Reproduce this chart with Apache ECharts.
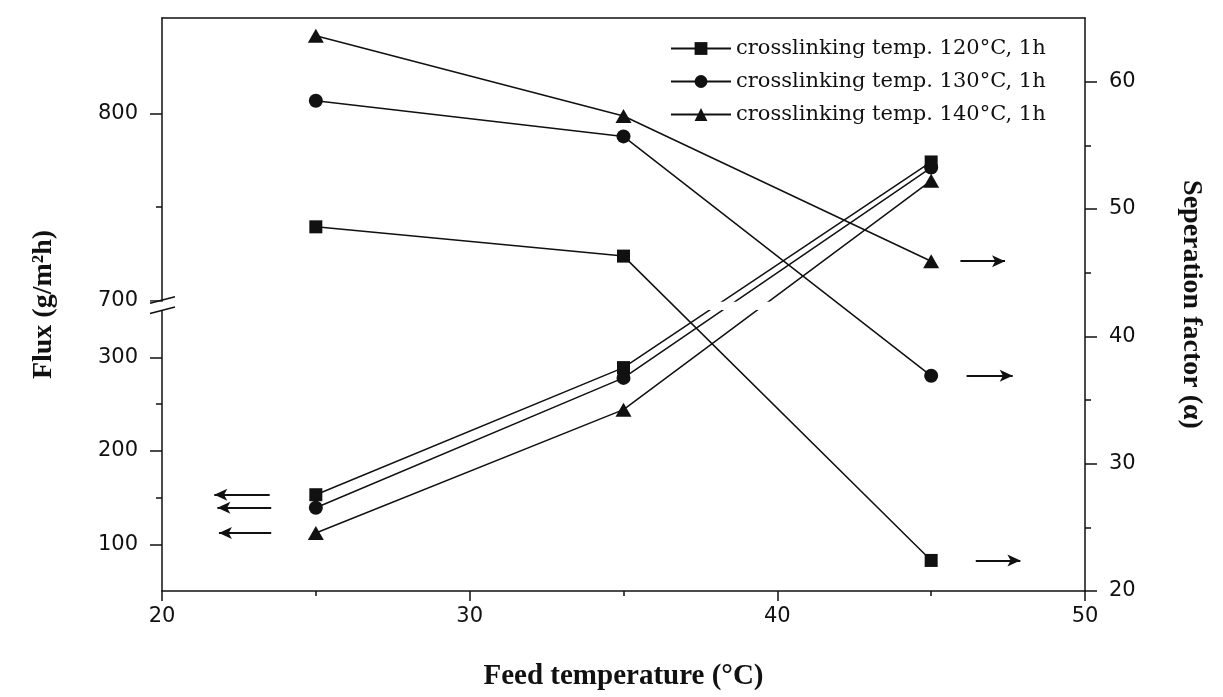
<!DOCTYPE html>
<html>
<head>
<meta charset="utf-8">
<title>Flux and separation factor vs feed temperature</title>
<script src="https://cdn.jsdelivr.net/npm/echarts@6/dist/echarts.min.js"></script>
<style>
  html, body { margin: 0; padding: 0; background: #fff; }
  #chart { width: 1223px; height: 697px; }
</style>
</head>
<body>
<div id="chart"></div>
<script>
// feed temperature (°C)
const feedTemps = [25, 35, 45];
const seriesNames = ['crosslinking temp. 120°C, 1h', 'crosslinking temp. 130°C, 1h', 'crosslinking temp. 140°C, 1h'];

// flux (g/m2h), left axis
const flux120 = [153, 289, 774];
const flux130 = [139, 278, 771];
const flux140 = [112, 244, 764];

// separation factor, right axis
const sep120 = [48.6, 46.3, 22.4];
const sep130 = [58.5, 55.7, 36.9];
const sep140 = [63.6, 57.3, 45.9];

// tick labels
const xTicks = [20, 30, 40, 50];
const fluxMajorTicks = [100, 200, 300, 700, 800];
const fluxMinorTicks = [150, 250, 750];
const sepMajorTicks = [20, 30, 40, 50, 60];
const sepMinorTicks = [25, 35, 45, 55];

// broken flux axis: 50-350 under the break, 700-850 above it at twice the scale
const BREAK_LO = 350, BREAK_HI = 700, BREAK_GAP = 11, UPPER_STRETCH = 2;
function fluxToAxis(v) {
  if (v <= BREAK_LO) return v;
  if (v >= BREAK_HI) return BREAK_LO + BREAK_GAP + (v - BREAK_HI) * UPPER_STRETCH;
  return BREAK_LO + (v - BREAK_LO) / (BREAK_HI - BREAK_LO) * BREAK_GAP;
}
function axisToFlux(u) {
  if (u <= BREAK_LO) return u;
  if (u >= BREAK_LO + BREAK_GAP) return BREAK_HI + (u - BREAK_LO - BREAK_GAP) / UPPER_STRETCH;
  return BREAK_LO + (u - BREAK_LO) / BREAK_GAP * (BREAK_HI - BREAK_LO);
}

const fluxData = [flux120, flux130, flux140];
const sepData = [sep120, sep130, sep140];
const symbols = ['rect', 'circle', 'triangle'];
const symbolSizes = [13, 14, [16, 14]];
// arrows telling which axis a group of curves belongs to
const fluxArrowX = [[23.5, 21.7], [23.55, 21.8], [23.55, 21.85]];
const sepArrowX = [[46.45, 47.9], [46.15, 47.65], [45.95, 47.4]];

const INK = '#111';
const numFont = 'DejaVu Sans, sans-serif';
const titleFont = 'Liberation Serif, Times New Roman, serif';

function arrowLine(x0, x1, y) {
  return {
    silent: true,
    symbol: ['none', 'arrow'],
    symbolSize: [9, 13],
    label: { show: false },
    lineStyle: { color: INK, width: 1.8, type: 'solid' },
    data: [[{ coord: [x0, y] }, { coord: [x1, y] }]]
  };
}

const series = [];
fluxData.forEach((vals, i) => {
  series.push({
    name: seriesNames[i],
    type: 'line',
    xAxisIndex: 0,
    yAxisIndex: 0,
    z: 2,
    symbol: symbols[i],
    symbolSize: symbolSizes[i],
    lineStyle: { color: INK, width: 1.5 },
    itemStyle: { color: INK },
    data: feedTemps.map((t, k) => [t, fluxToAxis(vals[k])]),
    markLine: arrowLine(fluxArrowX[i][0], fluxArrowX[i][1], fluxToAxis(vals[0]))
  });
});
sepData.forEach((vals, i) => {
  series.push({
    name: seriesNames[i],
    type: 'line',
    xAxisIndex: 0,
    yAxisIndex: 2,
    z: 4,
    symbol: symbols[i],
    symbolSize: symbolSizes[i],
    lineStyle: { color: INK, width: 1.5 },
    itemStyle: { color: INK },
    data: feedTemps.map((t, k) => [t, vals[k]]),
    markLine: arrowLine(sepArrowX[i][0], sepArrowX[i][1], vals[2])
  });
});

const fluxMin = 50, fluxMax = fluxToAxis(851);
const sepMin = 20, sepMax = 65;

const chart = echarts.init(document.getElementById('chart'));
chart.setOption({
  animation: false,
  backgroundColor: '#fff',
  grid: { left: 162, right: 138, top: 18, bottom: 106 },
  legend: {
    orient: 'vertical',
    left: 670,
    top: 38,
    padding: 0,
    itemWidth: 60,
    itemHeight: 16,
    itemGap: 12,
    data: seriesNames,
    textStyle: { fontFamily: 'DejaVu Serif, serif', fontSize: 21, lineHeight: 21, color: INK }
  },
  xAxis: [{
    type: 'value',
    min: 20, max: 50, interval: 10,
    name: 'Feed temperature (°C)',
    nameLocation: 'middle',
    nameGap: 71,
    nameTextStyle: { fontFamily: titleFont, fontWeight: 'bold', fontSize: 29, color: INK },
    axisLine: { lineStyle: { color: INK, width: 1.5 } },
    axisTick: { length: 10, lineStyle: { color: INK, width: 1.5 }, customValues: xTicks },
    minorTick: { show: true, splitNumber: 2, length: 5, lineStyle: { color: INK, width: 1.5 } },
    axisLabel: { margin: 15, fontFamily: numFont, fontSize: 21, color: INK, customValues: xTicks },
    splitLine: { show: false },
    minorSplitLine: { show: false }
  }, {
    type: 'value',
    position: 'top',
    min: 20, max: 50,
    axisLine: { onZero: false, lineStyle: { color: INK, width: 1.5 } },
    axisTick: { show: false },
    axisLabel: { show: false },
    splitLine: { show: false }
  }],
  yAxis: [{
    type: 'value',
    position: 'left',
    min: fluxMin, max: fluxMax,
    name: 'Flux (g/m²h)',
    nameLocation: 'middle',
    nameRotate: 90,
    nameGap: 104,
    nameTextStyle: { fontFamily: titleFont, fontWeight: 'bold', fontSize: 28, color: INK },
    axisLine: { show: true, onZero: false, lineStyle: { color: INK, width: 1.5 } },
    axisTick: { length: 12, lineStyle: { color: INK, width: 1.5 }, customValues: fluxMajorTicks.map(fluxToAxis) },
    axisLabel: {
      margin: 24, fontFamily: numFont, fontSize: 21, color: INK,
      customValues: fluxMajorTicks.map(fluxToAxis),
      formatter: v => String(Math.round(axisToFlux(v)))
    },
    splitLine: { show: false }
  }, {
    type: 'value',
    position: 'left',
    min: fluxMin, max: fluxMax,
    axisLine: { show: false },
    axisTick: { length: 6, lineStyle: { color: INK, width: 1.5 }, customValues: fluxMinorTicks.map(fluxToAxis) },
    axisLabel: { show: false },
    splitLine: { show: false }
  }, {
    type: 'value',
    position: 'right',
    min: sepMin, max: sepMax,
    name: 'Seperation factor (α)',
    nameLocation: 'middle',
    nameRotate: -90,
    nameGap: 92,
    nameTextStyle: { fontFamily: titleFont, fontWeight: 'bold', fontSize: 28, color: INK },
    axisLine: { show: true, onZero: false, lineStyle: { color: INK, width: 1.5 } },
    axisTick: { length: 12, lineStyle: { color: INK, width: 1.5 }, customValues: sepMajorTicks },
    axisLabel: { margin: 24, fontFamily: numFont, fontSize: 21, color: INK, customValues: sepMajorTicks },
    splitLine: { show: false }
  }, {
    type: 'value',
    position: 'right',
    min: sepMin, max: sepMax,
    axisLine: { show: false },
    axisTick: { length: 6, lineStyle: { color: INK, width: 1.5 }, customValues: sepMinorTicks },
    axisLabel: { show: false },
    splitLine: { show: false }
  }],
  series: series
});

// axis break: blank the band between 350 and 700 on the flux side, add the double slash
const yHi = chart.convertToPixel({ yAxisIndex: 0 }, fluxToAxis(BREAK_HI));
const yLo = chart.convertToPixel({ yAxisIndex: 0 }, fluxToAxis(BREAK_LO));
const xL = chart.convertToPixel({ xAxisIndex: 0 }, 20);
const xR = chart.convertToPixel({ xAxisIndex: 0 }, 50);
chart.setOption({
  graphic: [
    { type: 'rect', z: 3, silent: true,
      shape: { x: xL - 14, y: yHi + 1.5, width: xR - xL + 8, height: yLo - yHi - 2 },
      style: { fill: '#fff' } },
    { type: 'line', z: 5, silent: true,
      shape: { x1: xL - 12, y1: yHi + 3, x2: xL + 13, y2: yHi - 3.5 },
      style: { stroke: INK, lineWidth: 1.6 } },
    { type: 'line', z: 5, silent: true,
      shape: { x1: xL - 12, y1: yLo + 3, x2: xL + 13, y2: yLo - 3.5 },
      style: { stroke: INK, lineWidth: 1.6 } }
  ]
});
</script>
</body>
</html>
